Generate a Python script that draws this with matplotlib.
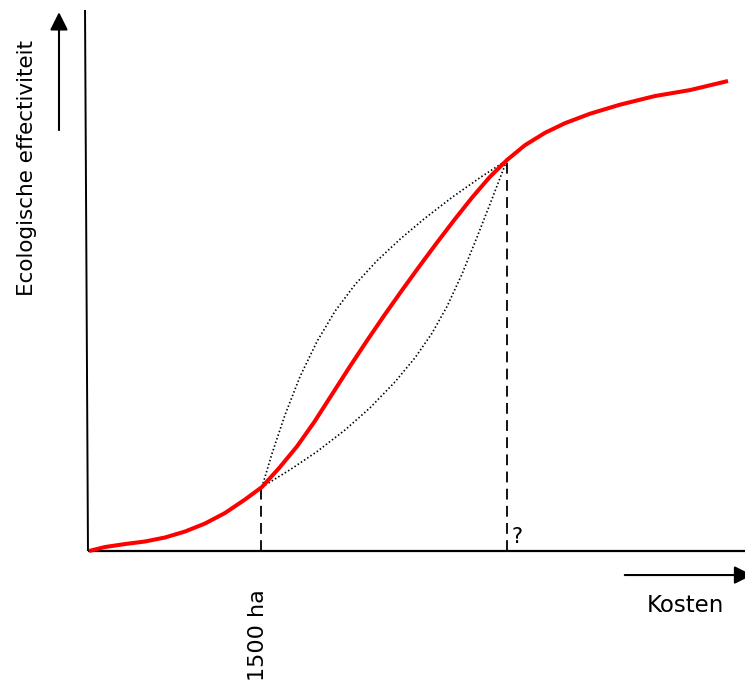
import matplotlib
matplotlib.use("Agg")
import matplotlib.pyplot as plt

# values, axis units 0..100
curve_x = [0.15, 2.59, 5.63, 8.68, 11.72, 14.76, 17.81, 20.85, 23.90, 26.48,
           29.15, 31.81, 34.47, 37.14, 39.80, 42.47, 45.13, 47.79, 50.46,
           53.12, 55.78, 58.45, 61.11, 63.77,
           66.51, 69.56, 72.60, 76.41, 80.97, 86.30, 91.63, 97.41]
curve_y = [0, 0.74, 1.29, 1.76, 2.50, 3.60, 5.08, 7.02, 9.52, 11.83,
           15.42, 19.33, 23.90, 28.95, 33.99, 38.89, 43.62, 48.19, 52.66,
           57.01, 61.24, 65.32, 69.08, 72.27,
           75.01, 77.30, 79.08, 80.83, 82.50, 84.10, 85.20, 86.88]

upper_x = [26.48, 28.01, 29.98, 32.27, 34.86, 37.60, 40.64, 43.99, 47.49,
           51.29, 55.40, 59.67, 63.77]
upper_y = [11.83, 18.02, 25.14, 32.24, 38.74, 44.33, 49.24, 53.66, 57.63,
           61.52, 65.36, 69.02, 72.27]

lower_x = [26.48, 30.75, 34.86, 39.12, 42.92, 46.73, 49.77, 52.36, 54.64,
           56.93, 59.21, 61.49, 63.77]
lower_y = [11.83, 15.02, 18.38, 22.37, 26.46, 31.26, 35.71, 40.25, 45.19,
           51.19, 58.00, 65.07, 72.27]

marks_x = [26.4, 63.8]
marks_y = [11.83, 72.27]

fig = plt.figure(figsize=(7.45, 6.82), dpi=100)
ax = fig.add_axes([0, 0, 1, 1])
ax.set_xlim(-13.39, 100.0)
ax.set_ylim(-24.21, 101.85)
ax.axis("off")

# axes
ax.plot([0, 105], [0, 0], color="black", lw=1.6, solid_capstyle="butt")
ax.plot([0, -0.45], [0, 100], color="black", lw=1.4, solid_capstyle="butt")

# dashed guides
for mx, my in zip(marks_x, marks_y):
    ax.plot([mx, mx], [0, my], color="black", lw=1.3, ls=(0, (6, 3.5)))

# dotted alternatives
ax.plot(upper_x, upper_y, color="black", lw=1.2, ls=(0, (0.9, 1.4)))
ax.plot(lower_x, lower_y, color="black", lw=1.2, ls=(0, (0.9, 1.4)))

# main curve
ax.plot(curve_x, curve_y, color="red", lw=2.9, solid_capstyle="butt",
        solid_joinstyle="round")

# arrows
ax.annotate("", xy=(-4.41, 99.6), xytext=(-4.41, 77.8), annotation_clip=False,
            arrowprops=dict(arrowstyle="-|>", mutation_scale=27, lw=1.5,
                            color="black", shrinkA=0, shrinkB=0))
ax.annotate("", xy=(101.1, -4.44), xytext=(81.7, -4.44), annotation_clip=False,
            arrowprops=dict(arrowstyle="-|>", mutation_scale=27, lw=1.5,
                            color="black", shrinkA=0, shrinkB=0))

# text
ax.text(-9.28, 70.8, "Ecologische effectiviteit", rotation=90, ha="center",
        va="center", fontsize=15.5)
ax.text(90.9, -10.0, "Kosten", ha="center", va="center", fontsize=16.5)
ax.text(25.9, -15.5, "1500 ha", rotation=90, ha="center", va="center", fontsize=16)
ax.text(64.4, 2.6, "?", ha="left", va="center", fontsize=15)

fig.savefig("out.png", dpi=100, facecolor="white")
